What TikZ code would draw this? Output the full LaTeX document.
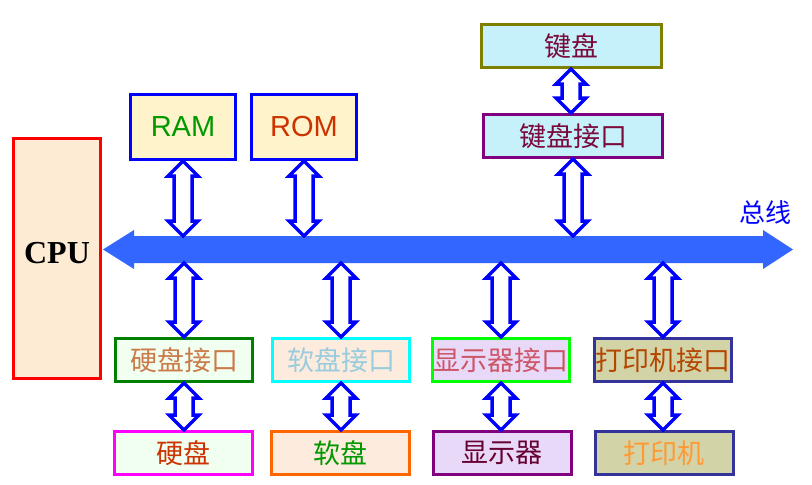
\documentclass[tikz,border=0pt]{standalone}
\usepackage{fontspec}
\setmainfont{Liberation Serif}
\setsansfont{Liberation Sans}
\newfontfamily\cjk{Noto Sans CJK SC}
\usetikzlibrary{calc}

\definecolor{busblue}{HTML}{3366FF}
\definecolor{cpufill}{HTML}{FDEBD3}
\definecolor{memfill}{HTML}{FFF3CC}
\definecolor{kbfill}{HTML}{C6F1FB}
\definecolor{kbtext}{HTML}{7A0A3C}
\definecolor{olive}{HTML}{808000}
\definecolor{purple}{HTML}{800080}
\definecolor{hdfill}{HTML}{F0FFF0}
\definecolor{fdfill}{HTML}{FDEBDD}
\definecolor{dpfill}{HTML}{E9D9F9}
\definecolor{prfill}{HTML}{D3D3A8}
\definecolor{prline}{HTML}{333399}
\definecolor{darkgreen}{HTML}{008000}
\definecolor{fdiline}{HTML}{00FFFF}
\definecolor{hdline}{HTML}{FF00FF}
\definecolor{dpiline}{HTML}{00FF00}
\definecolor{ramtext}{HTML}{009900}
\definecolor{romtext}{HTML}{CC3300}
\definecolor{hditext}{HTML}{CC7A4A}
\definecolor{fditext}{HTML}{99CCDD}
\definecolor{dpitext}{HTML}{CC5566}
\definecolor{pritext}{HTML}{B34700}
\definecolor{dptext}{HTML}{660033}
\definecolor{prtext}{HTML}{FF9933}
\definecolor{fdline}{HTML}{FF6600}
\definecolor{linkblue}{HTML}{0000FF}

% hollow double arrow from top point #1 down to bottom point #2
\newcommand{\dblarrow}[2]{%
  \coordinate (da) at (#1);
  \coordinate (db) at (#2);
  \draw[link] (da) -- ++(15pt,-15pt) -- ++(-6pt,0) -- ($(db)+(9pt,15pt)$) -- ++(6pt,0)
    -- (db) -- ++(-15pt,15pt) -- ++(6pt,0) -- ($(da)+(-9pt,-15pt)$) -- ++(-6pt,0) -- cycle;
}

\begin{document}
\begin{tikzpicture}[x=1pt, y=-1pt,
    box/.style={draw, line width=3pt, inner sep=0pt, minimum height=43pt},
    cjktext/.style={font=\cjk\fontsize{27}{27}\selectfont},
    link/.style={draw=linkblue, fill=white, line width=3.5pt, line join=miter}]
  \fill[white] (0,0) rectangle (812,485);
  \useasboundingbox (0,0) rectangle (812,485);

  % CPU and memories
  \node[box, draw=red, fill=cpufill, minimum width=87pt, minimum height=240pt, text depth=12pt,
        font=\bfseries\fontsize{32}{32}\selectfont] (cpu) at (57,258.5) {CPU};
  \node[box, draw=linkblue, fill=memfill, text=ramtext, minimum width=105pt, minimum height=65pt,
        font=\sffamily\fontsize{29}{29}\selectfont] (ram) at (183,127) {RAM};
  \node[box, draw=linkblue, fill=memfill, text=romtext, minimum width=105pt, minimum height=65pt,
        font=\sffamily\fontsize{29}{29}\selectfont] (rom) at (304,127) {ROM};

  % keyboard
  \node[box, cjktext, draw=olive, fill=kbfill, text=kbtext, minimum width=180pt] (kb) at (571,46) {键盘};
  \node[box, cjktext, draw=purple, fill=kbfill, text=kbtext, minimum width=179pt] (kbi) at (573,136) {键盘接口};

  % interfaces
  \node[box, cjktext, draw=darkgreen, fill=hdfill, text=hditext, minimum width=137pt] (hdi) at (184,360) {硬盘接口};
  \node[box, cjktext, draw=fdiline, fill=fdfill, text=fditext, minimum width=137pt] (fdi) at (341,360) {软盘接口};
  \node[box, cjktext, draw=dpiline, fill=dpfill, text=dpitext, minimum width=137pt] (dpi) at (501,360) {显示器接口};
  \node[box, cjktext, draw=prline, fill=prfill, text=pritext, minimum width=137pt] (pri) at (663,360) {打印机接口};

  % devices
  \node[box, cjktext, draw=hdline, fill=hdfill, text=romtext, minimum width=138pt] (hd) at (183,453) {硬盘};
  \node[box, cjktext, draw=fdline, fill=fdfill, text=ramtext, minimum width=138pt] (fd) at (340,453) {软盘};
  \node[box, cjktext, draw=purple, fill=dpfill, text=dptext, minimum width=138pt] (dp) at (502,453) {显示器};
  \node[box, cjktext, draw=prline, fill=prfill, text=prtext, minimum width=138pt] (pr) at (664,453) {打印机};

  % the bus
  \coordinate (busL) at (103,249.5);
  \coordinate (busR) at (793,249.5);
  \coordinate (bustop) at (0,236);
  \coordinate (busbot) at (0,263);
  \fill[busblue] (busL) -- ++(31pt,19.5pt) -- ++(0,-6pt) -- ($(busR)+(-30pt,13.5pt)$) -- ++(0,6pt)
    -- (busR) -- ++(-30pt,-19.5pt) -- ++(0,6pt) -- ($(busL)+(31pt,-13.5pt)$) -- ++(0,-6pt) -- cycle;
  \node[font=\cjk\fontsize{26}{26}\selectfont, text=linkblue] (buslabel) at (765,213) {总线};

  % links
  \dblarrow{ram.south}{ram.south |- bustop}
  \dblarrow{rom.south}{rom.south |- bustop}
  \dblarrow{kb.south}{kb.south |- kbi.north}
  \dblarrow{kbi.south}{kbi.south |- bustop}
  \dblarrow{busbot -| hdi.north}{hdi.north}
  \dblarrow{busbot -| fdi.north}{fdi.north}
  \dblarrow{busbot -| dpi.north}{dpi.north}
  \dblarrow{busbot -| pri.north}{pri.north}
  \dblarrow{hdi.south}{hdi.south |- hd.north}
  \dblarrow{fdi.south}{fdi.south |- fd.north}
  \dblarrow{dpi.south}{dpi.south |- dp.north}
  \dblarrow{pri.south}{pri.south |- pr.north}
\end{tikzpicture}
\end{document}
